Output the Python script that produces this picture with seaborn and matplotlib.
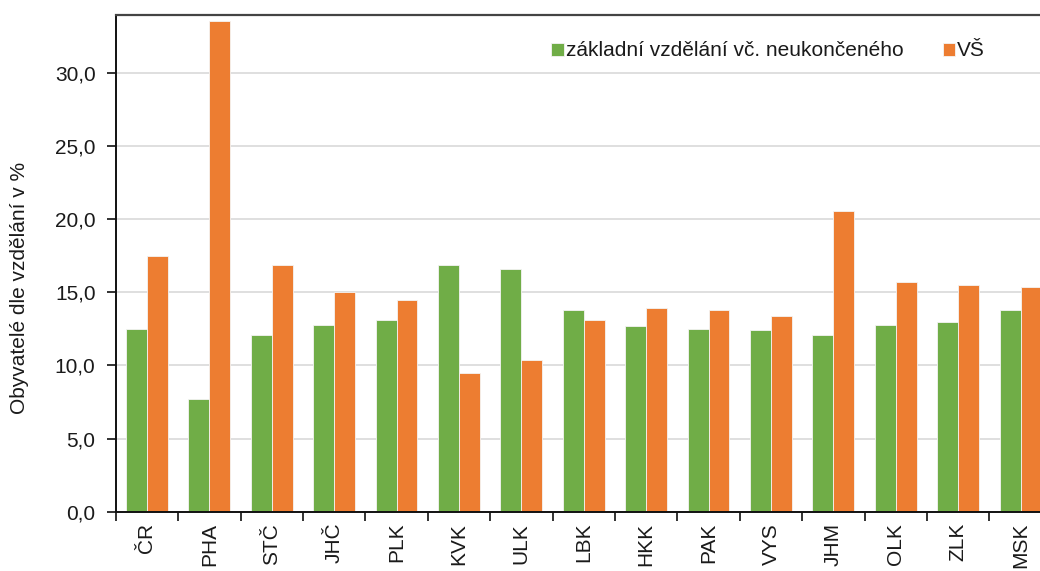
import numpy as np
import pandas as pd
import matplotlib
matplotlib.use("Agg")
import matplotlib.pyplot as plt
from matplotlib.ticker import FuncFormatter, FixedLocator
import seaborn as sns

# data (share of inhabitants by education, %)
regions = ["ČR", "PHA", "STČ", "JHČ", "PLK", "KVK", "ULK", "LBK",
           "HKK", "PAK", "VYS", "JHM", "OLK", "ZLK", "MSK"]
basic_edu = [12.5, 7.7, 12.1, 12.8, 13.1, 16.9, 16.6, 13.8,
             12.7, 12.5, 12.4, 12.1, 12.8, 13.0, 13.8]
university = [17.5, 33.6, 16.9, 15.0, 14.5, 9.5, 10.4, 13.1,
              13.9, 13.8, 13.4, 20.6, 15.7, 15.5, 15.4]
series_names = ["základní vzdělání vč. neukončeného", "VŠ"]
colors = ["#70AD47", "#ED7D31"]

df = pd.DataFrame({
    "region": regions * 2,
    "value": basic_edu + university,
    "series": [series_names[0]] * len(regions) + [series_names[1]] * len(regions),
})

sns.set_style("white")
plt.rcParams["font.family"] = ["Liberation Sans", "DejaVu Sans"]
FS = 15
TXT = "#1a1a1a"

fig = plt.figure(figsize=(10.4, 5.71), dpi=100)
# axes runs slightly past the right edge, like the cropped original
ax = fig.add_axes([0.1113, 0.1039, 0.9, 0.8704])

sns.barplot(data=df, x="region", y="value", hue="series", order=regions,
            hue_order=series_names, palette=colors, width=0.67,
            edgecolor="#f4f4f4", linewidth=0.6, saturation=1, ax=ax, legend=True)

ax.set_xlim(-0.5, len(regions) - 0.5)
ax.set_ylim(0, 34)
ax.yaxis.set_major_locator(FixedLocator(np.arange(0, 31, 5)))
ax.yaxis.set_major_formatter(FuncFormatter(lambda v, _: f"{v:.1f}".replace(".", ",")))
ax.grid(axis="y", color="#D9D9D9", linewidth=1.2)
ax.set_axisbelow(True)

# Excel-style: ticks between categories, labels centred
ax.set_xticks(np.arange(-0.5, len(regions), 1))
ax.set_xticklabels([])
ax.set_xticks(np.arange(len(regions)), minor=True)
ax.set_xticklabels(regions, minor=True, rotation=90, fontsize=FS, color=TXT)
ax.tick_params(axis="x", which="major", direction="out", length=6.5, width=1.3,
               bottom=True, color="#222222")
ax.tick_params(axis="x", which="minor", length=0, pad=8)
ax.tick_params(axis="y", direction="out", length=6.5, width=1.3, left=True,
               color="#222222", labelsize=FS, labelcolor=TXT, pad=8)

for side in ["left", "bottom"]:
    ax.spines[side].set_color("#111111")
    ax.spines[side].set_linewidth(1.4)
ax.spines["top"].set_color("#444444")
ax.spines["top"].set_linewidth(1.6)
ax.spines["right"].set_visible(False)

ax.set_xlabel("")
ax.set_ylabel("Obyvatelé dle vzdělání v %", fontsize=FS, color=TXT)
ax.yaxis.set_label_coords(-0.093, 0.45)

handles, labels = ax.get_legend_handles_labels()
ax.legend(handles, labels, loc="center left", ncol=2, frameon=False,
          bbox_to_anchor=(551 / 1040, 1 - 51 / 571), bbox_transform=fig.transFigure,
          handlelength=0.6, handleheight=0.6, handletextpad=0.1,
          columnspacing=1.9, fontsize=FS, labelcolor=TXT, borderaxespad=0,
          borderpad=0)

fig.savefig("out.png", dpi=100)
